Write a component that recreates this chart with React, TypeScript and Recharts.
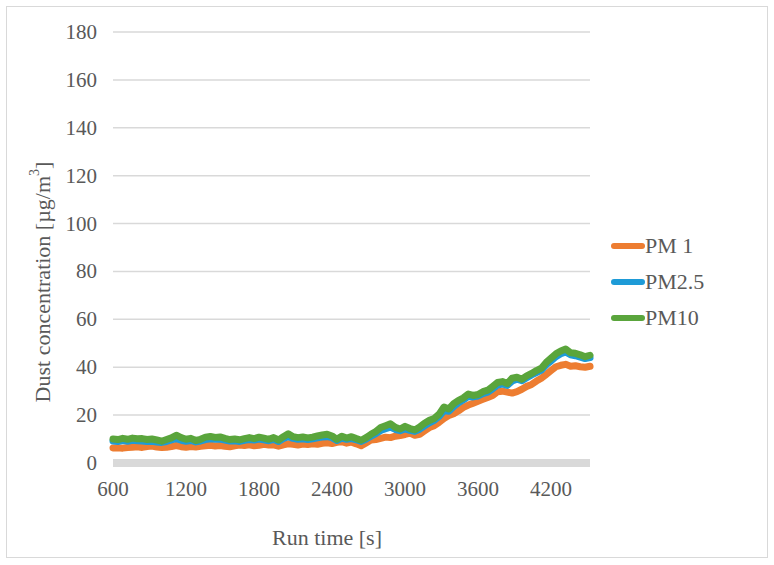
import React from 'react';
import { LineChart, Line, XAxis, YAxis, CartesianGrid, Legend } from 'recharts';

const runTime: number[] = [
  600, 640, 680, 720, 760, 800, 840, 880, 920, 960,
  1000, 1040, 1080, 1120, 1160, 1200, 1240, 1280, 1320, 1360,
  1400, 1440, 1480, 1520, 1560, 1600, 1640, 1680, 1720, 1760,
  1800, 1840, 1880, 1920, 1960, 2000, 2040, 2080, 2120, 2160,
  2200, 2240, 2280, 2320, 2360, 2400, 2440, 2480, 2520, 2560,
  2600, 2640, 2680, 2720, 2760, 2800, 2840, 2880, 2920, 2960,
  3000, 3040, 3080, 3120, 3160, 3200, 3240, 3280, 3320, 3360,
  3400, 3440, 3480, 3520, 3560, 3600, 3640, 3680, 3720, 3760,
  3800, 3840, 3880, 3920, 3960, 4000, 4040, 4080, 4120, 4160,
  4200, 4240, 4280, 4320, 4360, 4400, 4440, 4480, 4520,
];

const pm10: number[] = [
  10.0, 9.8, 10.3, 9.9, 10.4, 10.1, 10.2, 9.8, 10.0, 9.6,
  9.1, 9.8, 10.5, 11.6, 10.6, 9.9, 10.3, 9.4, 9.9, 10.8,
  11.1, 10.7, 10.9, 10.3, 9.8, 10.0, 9.7, 10.2, 10.6, 10.2,
  10.8, 10.4, 9.9, 10.6, 9.6, 11.0, 12.2, 11.0, 10.6, 10.9,
  10.5, 10.8, 11.3, 11.7, 12.0, 11.3, 9.9, 11.2, 10.4, 11.0,
  10.2, 9.5, 10.6, 12.0, 13.2, 14.8, 15.6, 16.4, 14.9, 14.2,
  15.3, 14.4, 13.8, 15.0, 16.6, 17.8, 18.6, 20.4, 23.4, 22.6,
  24.8, 26.2, 27.2, 28.8, 28.2, 28.6, 29.8, 30.4, 32.0, 33.6,
  34.0, 33.2, 35.4, 35.8, 35.0, 36.4, 37.4, 38.6, 39.6, 42.0,
  43.8, 45.6, 46.8, 47.6, 46.0, 45.8, 45.2, 44.4, 45.0,
];

const pm25: number[] = [
  9.2, 9.0, 9.4, 9.1, 9.5, 9.3, 9.2, 9.0, 9.1, 8.8,
  8.6, 9.0, 9.6, 10.2, 9.5, 9.1, 9.4, 8.8, 9.2, 9.8,
  10.1, 9.9, 10.0, 9.6, 9.2, 9.3, 9.0, 9.5, 9.8, 9.6,
  10.0, 9.7, 9.3, 9.9, 9.0, 10.2, 11.0, 10.3, 9.9, 10.1,
  9.8, 10.1, 10.5, 10.8, 11.0, 10.6, 9.4, 10.4, 9.9, 10.2,
  9.7, 9.0, 10.0, 11.2, 12.3, 13.6, 14.3, 15.0, 14.0, 13.5,
  14.2, 13.6, 13.2, 14.1, 15.5, 16.8, 17.8, 19.5, 21.8, 21.6,
  23.6, 25.2, 26.4, 27.8, 27.6, 28.0, 29.0, 29.6, 31.0, 32.6,
  33.0, 32.4, 34.2, 35.0, 34.4, 35.6, 36.8, 37.8, 38.8, 41.0,
  42.6, 44.4, 45.6, 46.4, 45.2, 44.8, 44.2, 43.6, 44.0,
];

const pm1: number[] = [
  6.3, 6.4, 6.2, 6.5, 6.6, 6.8, 6.5, 6.9, 7.1, 6.7,
  6.5, 6.6, 6.9, 7.3, 6.8, 6.6, 6.9, 6.7, 7.0, 7.2,
  7.4, 7.1, 7.3, 7.0, 6.8, 7.2, 7.5, 7.3, 7.6, 7.2,
  7.4, 7.8, 7.5, 7.6, 7.0, 7.6, 8.0, 7.8, 7.5, 7.9,
  7.7, 8.0, 7.8, 8.2, 8.4, 8.1, 8.6, 8.9, 8.3, 8.7,
  8.0, 7.2, 8.4, 9.6, 9.8, 10.3, 10.8, 10.6, 11.2, 11.5,
  11.9, 12.5, 11.6, 12.0, 13.4, 14.8, 15.6, 17.0, 18.6, 19.8,
  20.6, 21.8, 23.2, 24.2, 25.0, 25.8, 26.6, 27.4, 28.2, 29.8,
  30.0, 29.6, 29.2, 29.8, 30.8, 32.0, 32.8, 34.2, 35.4, 37.0,
  38.6, 40.2, 40.8, 41.2, 40.4, 40.6, 40.2, 40.0, 40.4,
];

const xTicks: number[] = [600, 1200, 1800, 2400, 3000, 3600, 4200];
const yTicks: number[] = [0, 20, 40, 60, 80, 100, 120, 140, 160, 180];

const seriesNames = { pm1: 'PM 1', pm25: 'PM2.5', pm10: 'PM10' };
const legendOrder: string[] = ['PM 1', 'PM2.5', 'PM10'];
const colors = { pm1: '#ED7D31', pm25: '#1E9BD7', pm10: '#5AA53C' };

const rows = runTime.map((t, i) => ({ t, pm1: pm1[i], pm25: pm25[i], pm10: pm10[i] }));

const FONT = 'Liberation Serif';
const TEXT = '#595959';
const GRID = '#D9D9D9';

const LegendContent = (props: any) => {
  const items = [...(props.payload || [])].sort(
    (a: any, b: any) => legendOrder.indexOf(a.value) - legendOrder.indexOf(b.value)
  );
  return (
    <div style={{ fontFamily: FONT, fontSize: 22, color: TEXT }}>
      {items.map((it: any) => (
        <div key={it.value} style={{ height: 36, display: 'flex', alignItems: 'center' }}>
          <svg width={34} height={10} style={{ display: 'block' }}>
            <line x1={3} y1={5} x2={31} y2={5} stroke={it.color} strokeWidth={6} strokeLinecap="round" />
          </svg>
          <span style={{ fontFamily: FONT }}>{it.value}</span>
        </div>
      ))}
    </div>
  );
};

const XTick = (props: any) => {
  const { x, y, payload } = props;
  return (
    <text x={x} y={y} dy={33} textAnchor="middle" style={{ fontFamily: FONT, fontSize: 21 }} fill={TEXT}>
      {payload.value}
    </text>
  );
};

const YTick = (props: any) => {
  const { x, y, payload } = props;
  return (
    <text x={x} y={y} dy={7} textAnchor="end" style={{ fontFamily: FONT, fontSize: 21 }} fill={TEXT}>
      {payload.value}
    </text>
  );
};

const YTitle = () => (
  <text
    x={42}
    y={282}
    transform="rotate(-90 42 282)"
    textAnchor="middle"
    dominantBaseline="central"
    style={{ fontFamily: FONT, fontSize: 22 }}
    fill={TEXT}
  >
    <tspan>Dust concentration [µg/m</tspan>
    <tspan dy={-8} fontSize={14}>3</tspan>
    <tspan dy={8}>]</tspan>
  </text>
);

const XTitle = () => (
  <text x={327} y={545} textAnchor="middle" style={{ fontFamily: FONT, fontSize: 22 }} fill={TEXT}>
    Run time [s]
  </text>
);

export default function App() {
  return (
    <div style={{ position: 'absolute', left: 0, top: 0, width: 774, height: 565, background: '#fff' }}>
      <div
        style={{
          position: 'absolute',
          left: 6,
          top: 6,
          width: 760,
          height: 550,
          border: `1.5px solid ${GRID}`,
        }}
      />
      <div style={{ position: 'absolute', left: 0, top: 0 }}>
        <LineChart
          width={774}
          height={565}
          data={rows}
          margin={{ top: 32, right: 184, left: 0, bottom: 72 }}
        >
          <CartesianGrid vertical={false} stroke={GRID} strokeWidth={1.5} />
          <XAxis
            type="number"
            dataKey="t"
            domain={[600, 4520]}
            ticks={xTicks}
            height={30}
            tickLine={false}
            tickSize={0}
            tickMargin={0}
            axisLine={{ stroke: GRID, strokeWidth: 8 }}
            tick={<XTick />}
            label={{ content: () => <XTitle /> }}
          />
          <YAxis
            type="number"
            domain={[0, 180]}
            ticks={yTicks}
            width={113}
            axisLine={false}
            tickLine={false}
            tickSize={0}
            tickMargin={16}
            tick={<YTick />}
            label={{ content: () => <YTitle /> }}
          />
          <Legend
            layout="vertical"
            align="center"
            verticalAlign="middle"
            content={<LegendContent />}
            wrapperStyle={{ left: 611, top: 228, width: 130 }}
          />
          <Line
            type="linear"
            dataKey="pm1"
            name={seriesNames.pm1}
            stroke={colors.pm1}
            strokeWidth={7}
            strokeLinecap="round"
            strokeLinejoin="round"
            dot={false}
            isAnimationActive={false}
          />
          <Line
            type="linear"
            dataKey="pm25"
            name={seriesNames.pm25}
            stroke={colors.pm25}
            strokeWidth={7}
            strokeLinecap="round"
            strokeLinejoin="round"
            dot={false}
            isAnimationActive={false}
          />
          <Line
            type="linear"
            dataKey="pm10"
            name={seriesNames.pm10}
            stroke={colors.pm10}
            strokeWidth={7}
            strokeLinecap="round"
            strokeLinejoin="round"
            dot={false}
            isAnimationActive={false}
          />
        </LineChart>
      </div>
    </div>
  );
}
